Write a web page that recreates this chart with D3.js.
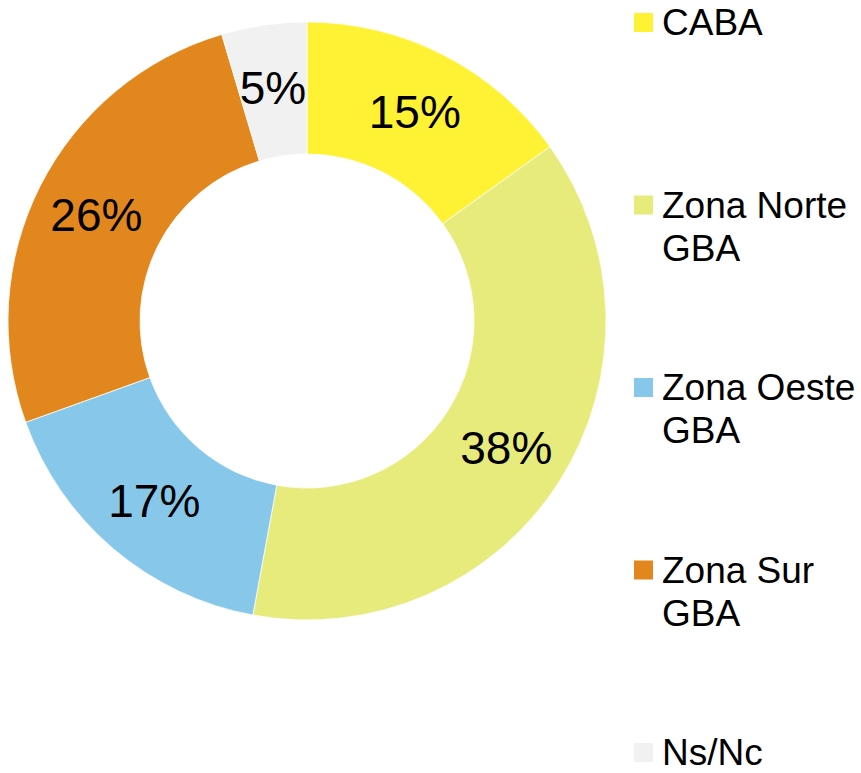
<!DOCTYPE html>
<html>
<head>
<meta charset="utf-8">
<script src="https://cdn.jsdelivr.net/npm/d3@7"></script>
<style>
  body { margin: 0; background: #fff; }
  text { font-family: "Liberation Sans", Arial, sans-serif; fill: #000; }
</style>
</head>
<body>
<div id="chart"></div>
<script>
// zones and their shares (%)
const zones = ["CABA", "Zona Norte GBA", "Zona Oeste GBA", "Zona Sur GBA", "Ns/Nc"];
const shares = [15.1, 37.8, 16.6, 25.9, 4.6];
const pctLabels = ["15%", "38%", "17%", "26%", "5%"];
const legendLines = [["CABA"], ["Zona Norte", "GBA"], ["Zona Oeste", "GBA"], ["Zona Sur", "GBA"], ["Ns/Nc"]];
const colors = ["#fff133", "#e7eb7b", "#87c8ea", "#e2871d", "#f1f1f1"];

const width = 861, height = 773;
const cx = 307, cy = 321;
const outerR = 299, innerR = 167;

const svg = d3.select("#chart").append("svg")
    .attr("width", width)
    .attr("height", height);

const g = svg.append("g")
    .attr("transform", "translate(" + cx + "," + cy + ")");

const pie = d3.pie().sort(null).value(d => d);
const arcs = pie(shares);

const arc = d3.arc().innerRadius(innerR).outerRadius(outerR);
const labelArc = d3.arc().innerRadius(236).outerRadius(236);

g.selectAll(".slice")
    .data(arcs)
  .enter().append("path")
    .attr("class", "slice")
    .attr("d", arc)
    .style("fill", (d, i) => colors[i])
    .style("stroke", "#fff")
    .style("stroke-width", 0.75);

g.selectAll(".pct")
    .data(arcs)
  .enter().append("text")
    .attr("class", "pct")
    .attr("transform", d => "translate(" + labelArc.centroid(d) + ")")
    .attr("text-anchor", "middle")
    .attr("dy", "0.36em")
    .style("font-size", "46px")
    .text((d, i) => pctLabels[i]);

// legend
const legendY = d3.scalePoint().domain(zones).range([35, 765]);

const legend = svg.selectAll(".legend")
    .data(zones)
  .enter().append("g")
    .attr("class", "legend")
    .attr("transform", d => "translate(634," + legendY(d) + ")");

legend.append("rect")
    .attr("x", 0)
    .attr("y", -22)
    .attr("width", 19)
    .attr("height", 19)
    .style("fill", (d, i) => colors[i]);

legend.append("text")
    .attr("x", 28)
    .style("font-size", "37px")
    .selectAll("tspan")
    .data((d, i) => legendLines[i])
  .enter().append("tspan")
    .attr("x", 28)
    .attr("dy", (d, j) => j === 0 ? 0 : 43)
    .text(d => d);
</script>
</body>
</html>
